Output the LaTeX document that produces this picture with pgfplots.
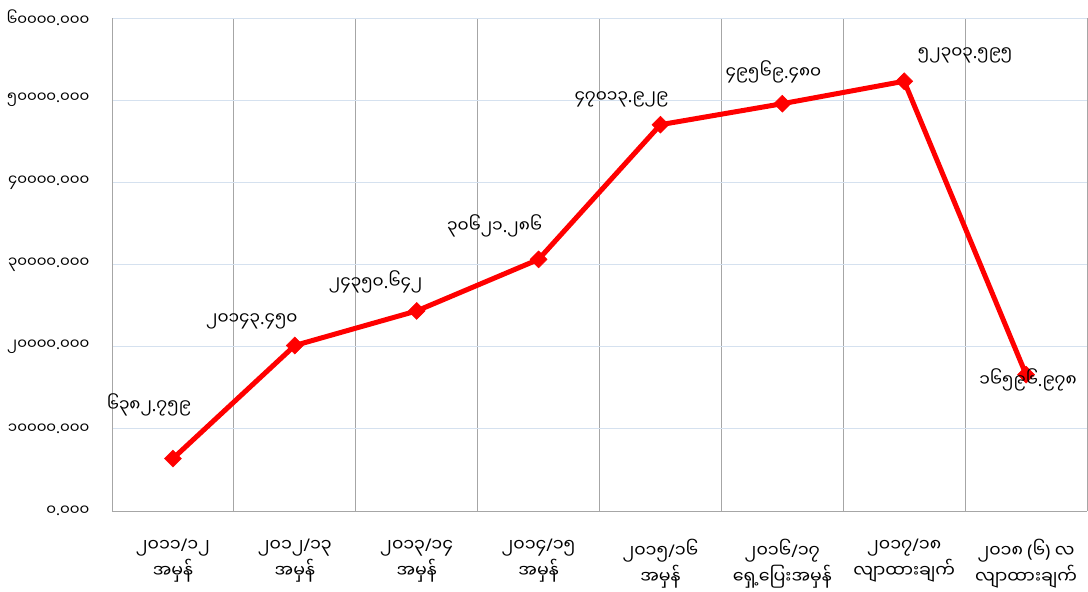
\documentclass[border=0pt]{standalone}
\usepackage{fontspec}
\usepackage{pgfplots}
\pgfplotsset{compat=1.18}
\usepackage{pgfplotstable}
\newfontfamily\my[Script=Myanmar]{Noto Sans Myanmar UI}
\newfontfamily\lf{Noto Sans}
\newcommand\D{{\lf.}}
\newcommand\Sl{{\lf/}}
\newcommand\Lp{{\lf(}}
\newcommand\Rp{{\lf)}}
\definecolor{gridblue}{HTML}{D5E1EF}
\definecolor{gridgray}{HTML}{A6A6A6}
\pgfplotstableread{
x y dx dy label
0 6382.759 -24 54 ၆၃၈၂\D{}၇၅၉
1 20143.450 -43 24 ၂၀၁၄၃\D{}၄၅၀
2 24350.642 -41 29 ၂၄၃၅၀\D{}၆၄၂
3 30621.286 -44 34 ၃၀၆၂၁\D{}၂၈၆
4 47013.929 -39 25 ၄၇၀၁၃\D{}၉၂၉
5 49569.480 -9 32 ၄၉၅၆၉\D{}၄၈၀
6 52303.595 61 26 ၅၂၃၀၃\D{}၅၉၅
7 16596.978 2 -5 ၁၆၅၉၆\D{}၉၇၈
}\data
\begin{document}
\begin{tikzpicture}
\begin{axis}[
  scale only axis, width=975bp, height=493bp,
  xmin=-0.5, xmax=7.5, ymin=0, ymax=60000,
  scaled y ticks=false,
  axis x line*=bottom, axis y line*=left,
  axis line style={gridgray, -, line width=0.8pt},
  major tick length=0pt, minor tick length=0pt,
  xtick={0,...,7},
  xticklabels={{၂၀၁၁\Sl{}၁၂\\အမှန်},{၂၀၁၂\Sl{}၁၃\\အမှန်},{၂၀၁၃\Sl{}၁၄\\အမှန်},{၂၀၁၄\Sl{}၁၅\\အမှန်},{၂၀၁၅\Sl{}၁၆\\အမှန်},{၂၀၁၆\Sl{}၁၇\\ရှေ့ပြေးအမှန်},{၂၀၁၇\Sl{}၁၈\\လျာထားချက်},{၂၀၁၈ \Lp{}၆\Rp{} လ\\လျာထားချက်}},
  xticklabel style={font=\my\fontsize{17.5}{26}\selectfont, align=center, anchor=north, yshift=-25bp},
  minor xtick={-0.5,0.5,...,7.5}, xminorgrids,
  minor x grid style={gridgray, line width=0.8pt},
  ytick={0,10000,...,60000},
  yticklabels={၀\D{}၀၀၀,၁၀၀၀၀\D{}၀၀၀,၂၀၀၀၀\D{}၀၀၀,၃၀၀၀၀\D{}၀၀၀,၄၀၀၀၀\D{}၀၀၀,၅၀၀၀၀\D{}၀၀၀,၆၀၀၀၀\D{}၀၀၀},
  ymajorgrids, major y grid style={gridblue, line width=1pt},
  yticklabel style={font=\my\fontsize{15}{16}\selectfont, anchor=east, xshift=-19bp},
  clip=false,
]
\addplot[red, line width=5bp, mark=square*, mark size=6bp, mark options={solid, rotate=45, line width=0.5pt},
  nodes near coords, point meta=explicit symbolic,
  visualization depends on={\thisrow{dx} \as \dx},
  visualization depends on={\thisrow{dy} \as \dy},
  nodes near coords style={text=black, font=\my\fontsize{17}{20}\selectfont, anchor=center, xshift=\dx bp, yshift=\dy bp}]
  table[x=x, y=y, meta=label] {\data};
\end{axis}
\pgfresetboundingbox
\path[use as bounding box] (-112bp,-81bp) rectangle (976bp,511bp);
\end{tikzpicture}
\end{document}
